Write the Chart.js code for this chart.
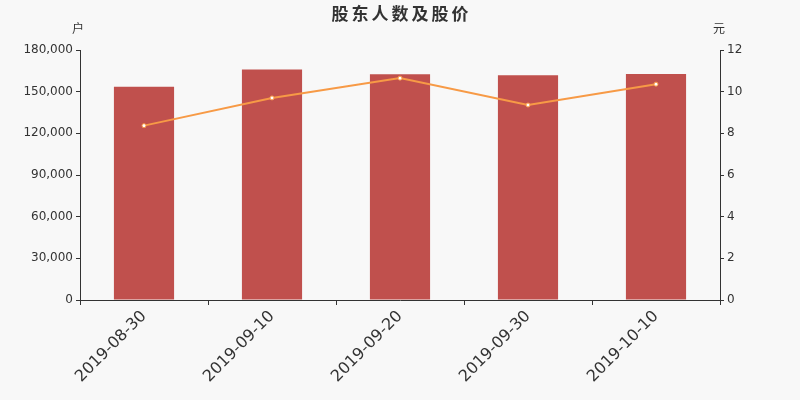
<!DOCTYPE html>
<html>
<head>
<meta charset="utf-8">
<script src="https://cdn.jsdelivr.net/npm/chart.js@4"></script>
<style>
  html, body { margin: 0; padding: 0; background: #f8f8f8; }
  #wrap { width: 800px; height: 400px; }
</style>
</head>
<body>
<div id="wrap"><canvas id="gudongChart"></canvas></div>
<script>
// dane z wykresu
const dates = ['2019-08-30', '2019-09-10', '2019-09-20', '2019-09-30', '2019-10-10'];
const holders = [153500, 166000, 162600, 161900, 162800];
const prices = [8.37, 9.70, 10.65, 9.36, 10.36];
const leftTicks = [0, 30000, 60000, 90000, 120000, 150000, 180000];
const rightTicks = [0, 2, 4, 6, 8, 10, 12];

const txt = '#333';
const fontFam = '"DejaVu Sans", "Noto Sans CJK SC", sans-serif';

// tytul i jednostki osi
const labelsPlugin = {
  id: 'labelsPlugin',
  beforeDraw(chart) {
    const c = chart.ctx;
    c.save();
    c.fillStyle = '#f8f8f8';
    c.fillRect(0, 0, chart.width, chart.height);
    c.restore();
  },
  afterDraw(chart) {
    const c = chart.ctx;
    const a = chart.chartArea;
    c.save();
    c.fillStyle = txt;
    c.textAlign = 'center';
    c.textBaseline = 'middle';
    c.font = 'bold 17px "Noto Sans CJK SC", sans-serif';
    c.letterSpacing = '3px';
    c.fillText('股东人数及股价', chart.width / 2 + 1.5, 14);
    c.letterSpacing = '0px';
    c.font = '12px "Noto Sans CJK SC", sans-serif';
    c.fillText('户', a.left - 2, 28);
    c.fillText('元', a.right - 1, 28);
    c.restore();
  }
};

const ctx = document.getElementById('gudongChart').getContext('2d');
const gudongChart = new Chart(ctx, {
  type: 'bar',
  data: {
    labels: dates,
    datasets: [
      {
        type: 'line',
        label: '股价',
        data: prices,
        yAxisID: 'y1',
        borderColor: '#f79a46',
        borderWidth: 2,
        pointRadius: 2,
        pointBackgroundColor: '#ffffff',
        pointBorderColor: '#f79a46',
        pointBorderWidth: 1,
        tension: 0,
        order: 0
      },
      {
        label: '股东人数',
        data: holders,
        yAxisID: 'y',
        backgroundColor: '#c0504d',
        categoryPercentage: 1,
        barPercentage: 0.47,
        order: 1
      }
    ]
  },
  options: {
    responsive: true,
    maintainAspectRatio: false,
    animation: false,
    layout: { padding: { top: 50, left: 0, right: 0, bottom: 0 } },
    scales: {
      x: {
        offset: true,
        grid: { display: true, drawOnChartArea: false, offset: true, tickLength: 5, color: txt },
        border: { color: txt, width: 1 },
        ticks: { color: txt, font: { family: fontFam, size: 16 }, maxRotation: 45, minRotation: 45, padding: 2 },
        afterFit(scale) { scale.height = 100; }
      },
      y: {
        position: 'left',
        min: 0,
        max: 180000,
        afterBuildTicks(scale) { scale.ticks = leftTicks.map(v => ({ value: v })); },
        grid: { drawOnChartArea: false, tickLength: 4, color: txt },
        border: { color: txt, width: 1 },
        ticks: {
          color: txt,
          font: { family: fontFam, size: 12 },
          padding: 3,
          callback: v => v.toLocaleString('en-US')
        },
        afterFit(scale) { scale.width = 80; }
      },
      y1: {
        position: 'right',
        min: 0,
        max: 12,
        afterBuildTicks(scale) { scale.ticks = rightTicks.map(v => ({ value: v })); },
        grid: { drawOnChartArea: false, tickLength: 4, color: txt },
        border: { color: txt, width: 1 },
        ticks: { color: txt, font: { family: fontFam, size: 12 }, padding: 3 },
        afterFit(scale) { scale.width = 80; }
      }
    },
    plugins: {
      legend: { display: false },
      tooltip: { enabled: false }
    }
  },
  plugins: [labelsPlugin]
});
</script>
</body>
</html>
